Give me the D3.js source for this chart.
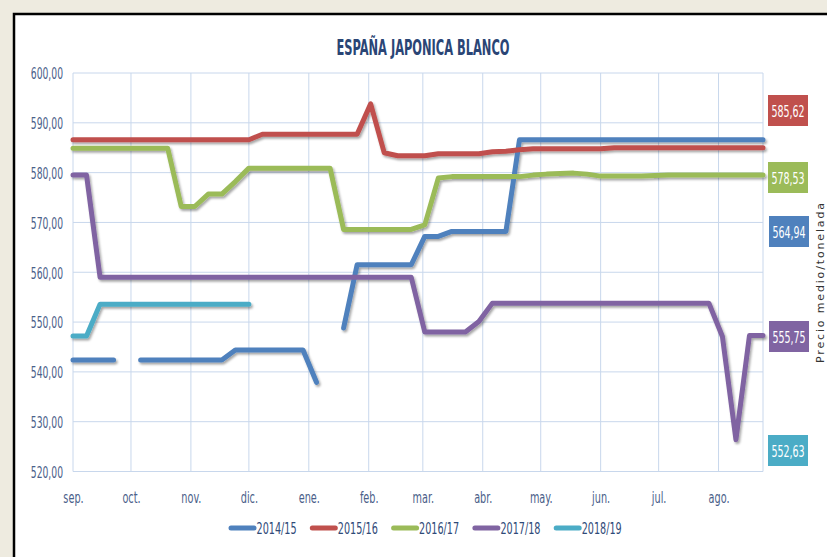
<!DOCTYPE html>
<html>
<head>
<meta charset="utf-8">
<script src="https://cdn.jsdelivr.net/npm/d3@7"></script>
<style>
  body { margin: 0; background: #eeebe0; }
  svg { display: block; }
</style>
</head>
<body>
<svg width="827" height="557"></svg>
<script>
// one value per week, starting 1 sep.
const seasons = ['2014/15', '2015/16', '2016/17', '2017/18', '2018/19'];
const colors = ['#4f81bd', '#c0504d', '#9bbb59', '#8064a2', '#4bacc6'];
const monthLabels = ['sep.', 'oct.', 'nov.', 'dic.', 'ene.', 'feb.', 'mar.', 'abr.', 'may.', 'jun.', 'jul.', 'ago.'];
const yTicks = [520, 530, 540, 550, 560, 570, 580, 590, 600];
const lastValues = ['564,94', '585,62', '578,53', '555,75', '552,63'];

const s1415 = [542.4, 542.4, 542.4, 542.4, null, 542.4, 542.4, 542.4, 542.4, 542.4,
    542.4, 542.4, 544.4, 544.4, 544.4, 544.4, 544.4, 544.4, 537.9, null,
    548.8, 561.5, 561.5, 561.5, 561.5, 561.5, 567.2, 567.2, 568.2, 568.2,
    568.2, 568.2, 568.2, 586.6, 586.6, 586.6, 586.6, 586.6, 586.6, 586.6,
    586.6, 586.6, 586.6, 586.6, 586.6, 586.6, 586.6, 586.6, 586.6, 586.6,
    586.6, 586.6];
const s1516 = [586.6, 586.6, 586.6, 586.6, 586.6, 586.6, 586.6, 586.6, 586.6, 586.6,
    586.6, 586.6, 586.6, 586.6, 587.7, 587.7, 587.7, 587.7, 587.7, 587.7,
    587.7, 587.7, 593.8, 584.0, 583.4, 583.4, 583.4, 583.8, 583.8, 583.8,
    583.8, 584.2, 584.3, 584.6, 584.8, 584.8, 584.8, 584.8, 584.8, 584.8,
    585.0, 585.0, 585.0, 585.0, 585.0, 585.0, 585.0, 585.0, 585.0, 585.0,
    585.0, 585.0];
const s1617 = [584.9, 584.9, 584.9, 584.9, 584.9, 584.9, 584.9, 584.9, 573.2, 573.2,
    575.7, 575.7, 578.2, 580.9, 580.9, 580.9, 580.9, 580.9, 580.9, 580.9,
    568.6, 568.6, 568.6, 568.6, 568.6, 568.6, 569.5, 578.9, 579.2, 579.2,
    579.2, 579.2, 579.2, 579.2, 579.5, 579.7, 579.8, 579.9, 579.7, 579.3,
    579.3, 579.3, 579.3, 579.4, 579.5, 579.5, 579.5, 579.5, 579.5, 579.5,
    579.5, 579.5];
const s1718 = [579.5, 579.5, 559.0, 559.0, 559.0, 559.0, 559.0, 559.0, 559.0, 559.0,
    559.0, 559.0, 559.0, 559.0, 559.0, 559.0, 559.0, 559.0, 559.0, 559.0,
    559.0, 559.0, 559.0, 559.0, 559.0, 559.0, 548.0, 548.0, 548.0, 548.0,
    550.1, 553.8, 553.8, 553.8, 553.8, 553.8, 553.8, 553.8, 553.8, 553.8,
    553.8, 553.8, 553.8, 553.8, 553.8, 553.8, 553.8, 553.8, 547.1, 526.4,
    547.3, 547.3];
const s1819 = [547.2, 547.2, 553.6, 553.6, 553.6, 553.6, 553.6, 553.6, 553.6, 553.6,
    553.6, 553.6, 553.6, 553.6, null, null, null, null, null, null,
    null, null, null, null, null, null, null, null, null, null,
    null, null, null, null, null, null, null, null, null, null,
    null, null, null, null, null, null, null, null, null, null,
    null, null];

const seriesValues = [s1415, s1516, s1617, s1718, s1819];

function Start(){
    const svg = d3.select('svg');
    const width = +svg.attr('width');
    const height = +svg.attr('height');
    const narrow = '"Liberation Sans Narrow", "DejaVu Sans Condensed", sans-serif';

    const left = 73, right = 763, top = 73, bottom = 471.5;

    // panel
    svg.append('rect')
        .attr('x', 14).attr('y', 14)
        .attr('width', width).attr('height', height)
        .attr('fill', 'white')
        .attr('stroke', 'black')
        .attr('stroke-width', 2.5);

    const defs = svg.append('defs');
    defs.append('filter')
        .attr('id', 'shadow')
        .attr('x', '-5%').attr('y', '-20%')
        .attr('width', '110%').attr('height', '140%')
      .append('feDropShadow')
        .attr('dx', 1.5).attr('dy', 2)
        .attr('stdDeviation', 1.3)
        .attr('flood-color', '#000')
        .attr('flood-opacity', 0.35);

    const start = new Date(2017, 8, 1);
    const weeks = s1415.map((d, i) => d3.timeDay.offset(start, i*7));

    const x = d3.scaleTime()
        .domain([weeks[0], weeks[weeks.length-1]])
        .range([left, right]);
    const y = d3.scaleLinear()
        .domain([520, 600])
        .range([bottom, top]);

    const months = d3.timeMonth.range(start, weeks[weeks.length-1]);

    // grid
    const grid = svg.append('g')
        .attr('stroke', '#c8d7ec')
        .attr('stroke-width', 1);
    grid.selectAll('.hline')
        .data(yTicks)
        .join('line')
        .attr('x1', left).attr('x2', right)
        .attr('y1', d => y(d)).attr('y2', d => y(d));
    grid.selectAll('.vline')
        .data(months.concat([weeks[weeks.length-1]]))
        .join('line')
        .attr('x1', d => x(d)).attr('x2', d => x(d))
        .attr('y1', top).attr('y2', bottom);

    // axes
    const fmt = d3.formatLocale({decimal: ',', thousands: '.', grouping: [3], currency: ['', '€']}).format('.2f');
    const yAxis = svg.append('g')
        .attr('transform', `translate(${left},0)`)
        .call(d3.axisLeft(y).tickValues(yTicks).tickSize(0).tickFormat(fmt));
    yAxis.select('.domain').remove();
    yAxis.selectAll('text')
        .attr('x', -10/0.64)
        .attr('dy', '0.36em')
        .attr('transform', 'scale(0.64,1)')
        .attr('fill', '#4a6089')
        .style('font-family', narrow)
        .style('font-size', '16px');

    const xAxis = svg.append('g')
        .attr('transform', `translate(0,${bottom})`)
        .call(d3.axisBottom(x).tickValues(months).tickSize(0).tickFormat((d, i) => monthLabels[i]));
    xAxis.select('.domain').remove();
    xAxis.selectAll('text')
        .attr('y', 32)
        .attr('dy', 0)
        .attr('transform', 'scale(0.72,1)')
        .attr('fill', '#4a6089')
        .style('font-family', narrow)
        .style('font-size', '15px');

    // lines
    const line = d3.line()
        .defined(d => d != null)
        .x((d, i) => x(weeks[i]))
        .y(d => y(d));
    svg.append('g')
        .attr('filter', 'url(#shadow)')
        .selectAll('path')
        .data(seriesValues)
        .join('path')
        .attr('d', line)
        .attr('fill', 'none')
        .attr('stroke', (d, i) => colors[i])
        .attr('stroke-width', 5)
        .attr('stroke-linejoin', 'round')
        .attr('stroke-linecap', 'round');

    // title
    svg.append('text')
        .attr('x', 423)
        .attr('y', 55)
        .attr('text-anchor', 'middle')
        .attr('textLength', 173)
        .attr('lengthAdjust', 'spacingAndGlyphs')
        .attr('fill', '#2a4575')
        .style('font-family', narrow)
        .style('font-weight', 'bold')
        .style('font-size', '21px')
        .text('ESPAÑA JAPONICA BLANCO');

    // value boxes on the right
    const boxTop = [216, 95, 162, 321, 435];
    const boxX = [769, 768, 768, 769, 768];
    const boxes = svg.append('g')
        .selectAll('g')
        .data(lastValues)
        .join('g')
        .attr('transform', (d, i) => `translate(${boxX[i]},${boxTop[i]})`);
    boxes.append('rect')
        .attr('width', 40)
        .attr('height', 31)
        .attr('fill', (d, i) => colors[i]);
    boxes.append('text')
        .attr('transform', 'translate(20,21.5) scale(0.66,1)')
        .attr('text-anchor', 'middle')
        .attr('fill', 'white')
        .style('font-family', narrow)
        .style('font-size', '16px')
        .text(d => d);

    svg.append('text')
        .attr('transform', 'translate(824,283) rotate(-90)')
        .attr('text-anchor', 'middle')
        .attr('textLength', 160)
        .attr('lengthAdjust', 'spacing')
        .attr('fill', '#333')
        .style('font-family', '"DejaVu Sans", sans-serif')
        .style('font-size', '11px')
        .text('Precio medio/tonelada');

    // legend
    const legend = svg.append('g')
        .selectAll('g')
        .data(seasons)
        .join('g')
        .attr('transform', (d, i) => `translate(${229 + i*81.3},528)`);
    legend.append('line')
        .attr('x1', 2).attr('x2', 25)
        .attr('stroke', (d, i) => colors[i])
        .attr('stroke-width', 5)
        .attr('stroke-linecap', 'round');
    legend.append('text')
        .attr('transform', 'translate(27.5,6) scale(0.67,1)')
        .attr('fill', '#2f4a78')
        .style('font-family', narrow)
        .style('font-size', '16px')
        .text(d => d);
}
Start();
</script>
</body>
</html>
